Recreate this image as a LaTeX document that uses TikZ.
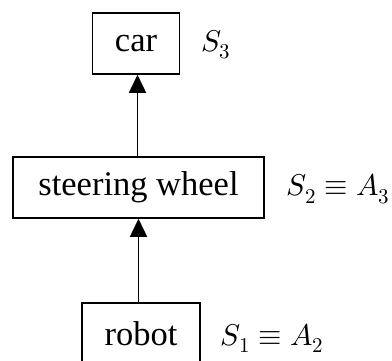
\documentclass[tikz,border=0pt]{standalone}
\usepackage{fontspec}
\usepackage{unicode-math}
\setmainfont{Liberation Serif}
\setmathfont{Latin Modern Math}
\usetikzlibrary{arrows.meta}
\tikzset{
  box/.style={draw, line width=1.5pt, inner sep=0pt, minimum height=61pt,
    font=\fontsize{34.5}{40}\selectfont},
  lbl/.style={anchor=base west, inner sep=0pt, font=\fontsize{30}{36}\selectfont},
  arr/.style={line width=1.5pt, -{Triangle[width=17pt,length=18pt]}}
}
\begin{document}
\begin{tikzpicture}[x=1pt,y=-1pt]
\useasboundingbox (0,0) rectangle (392,360);
\node[box, minimum width=87pt] (car) at (136,43.5) {car};
\node[box, minimum width=251pt] (sw) at (138.5,187.5) {steering wheel};
\node[box, minimum width=118pt] (robot) at (141,333.5) {robot};
\node[lbl] (l3) at ([xshift=21pt]car.base east) {$S_3$};
\node[lbl] (l2) at ([xshift=22pt]sw.base east) {$S_2\equiv A_3$};
\node[lbl] (l1) at ([xshift=20pt]robot.base east) {$S_1\equiv A_2$};
\draw[arr] ([xshift=-1pt]sw.north) -- ([xshift=-1pt]sw.north |- car.south);
\draw[arr] (robot.north -| sw.south) -- (sw.south);
\end{tikzpicture}
\end{document}
